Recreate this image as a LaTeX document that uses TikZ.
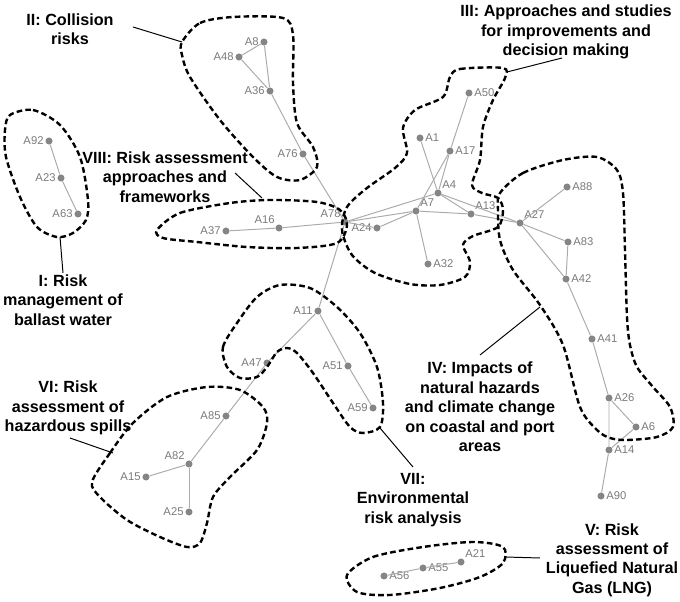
\documentclass[tikz,border=0pt]{standalone}
\usepackage{fontspec}
\setmainfont{Liberation Sans}
\definecolor{dotgray}{HTML}{858585}
\definecolor{edgegray}{HTML}{ABABAB}
\definecolor{labgray}{HTML}{7A7A7A}

\tikzset{
  dot/.style={circle, fill=dotgray, inner sep=0pt, minimum size=5pt},
  lbl/.style={font=\fontsize{8}{9}\selectfont, text=labgray, inner sep=1pt},
  edge/.style={draw=edgegray, line width=0.7pt},
  grp/.style={draw=black, line width=1.7pt, dash pattern=on 4pt off 2.3pt},
  lead/.style={draw=black, line width=0.7pt},
  grplbl/.style={font=\bfseries\fontsize{11.5}{13.8}\selectfont, align=center, inner sep=0pt}
}

\begin{document}
\begin{tikzpicture}[x=0.025cm, y=-0.025cm]
\useasboundingbox (0,0) rectangle (680,602);

%% I: ballast water
\draw (49,141) node[dot, label={[lbl]left:A92}] (a92) {};
\draw (61,178) node[dot, label={[lbl]left:A23}] (a23) {};
\draw (78,214) node[dot, label={[lbl]left:A63}] (a63) {};
%% II: collision
\draw (264,42) node[dot, label={[lbl]left:A8}] (a8) {};
\draw (239,57) node[dot, label={[lbl]left:A48}] (a48) {};
\draw (270,91) node[dot, label={[lbl]left:A36}] (a36) {};
\draw (303,154) node[dot, label={[lbl]left:A76}] (a76) {};
%% VIII: frameworks
\draw (226,231) node[dot, label={[lbl]left:A37}] (a37) {};
\draw (279,228) node[dot, label={[lbl]above left:A16}] (a16) {};
\draw (345,222) node[dot, label={[lbl]above left:A78}] (a78) {};
%% III: decision making
\draw (377,228) node[dot, label={[lbl]left:A24}] (a24) {};
\draw (469,93) node[dot, label={[lbl]right:A50}] (a50) {};
\draw (420,138) node[dot, label={[lbl]right:A1}] (a1) {};
\draw (450,151) node[dot, label={[lbl]right:A17}] (a17) {};
\draw (438,193) node[dot, label={[lbl]above right:A4}] (a4) {};
\draw (416,211) node[dot, label={[lbl]above right:A7}] (a7) {};
\draw (471,214) node[dot, label={[lbl]above right:A13}] (a13) {};
\draw (428,264) node[dot, label={[lbl]right:A32}] (a32) {};
%% IV: natural hazards
\draw (520,223) node[dot, label={[lbl]above right:A27}] (a27) {};
\draw (567,187) node[dot, label={[lbl]right:A88}] (a88) {};
\draw (568,242) node[dot, label={[lbl]right:A83}] (a83) {};
\draw (566,279) node[dot, label={[lbl]right:A42}] (a42) {};
\draw (592,339) node[dot, label={[lbl]right:A41}] (a41) {};
\draw (609,398) node[dot, label={[lbl]right:A26}] (a26) {};
\draw (636,427) node[dot, label={[lbl]right:A6}] (a6) {};
\draw (609,450) node[dot, label={[lbl]right:A14}] (a14) {};
\draw (601,496) node[dot, label={[lbl]right:A90}] (a90) {};
%% VII: environmental
\draw (318,311) node[dot, label={[lbl]left:A11}] (a11) {};
\draw (267,363) node[dot, label={[lbl]left:A47}] (a47) {};
\draw (348,366) node[dot, label={[lbl]left:A51}] (a51) {};
\draw (373,408) node[dot, label={[lbl]left:A59}] (a59) {};
%% VI: spills
\draw (226,416) node[dot, label={[lbl]left:A85}] (a85) {};
\draw (189,464) node[dot, label={[lbl]above left:A82}] (a82) {};
\draw (146,477) node[dot, label={[lbl]left:A15}] (a15) {};
\draw (189,512) node[dot, label={[lbl]left:A25}] (a25) {};
%% V: LNG
\draw (384,576) node[dot, label={[lbl]right:A56}] (a56) {};
\draw (423,568) node[dot, label={[lbl]right:A55}] (a55) {};
\draw (461,562) node[dot, label={[lbl]above right:A21}] (a21) {};

%%%%%%%%%%%%%%%%%%%%%% Links
\path[edge] (a92) -- (a23) -- (a63);
\path[edge] (a8) -- (a48) -- (a36) -- (a8);
\path[edge] (a36) -- (a76) -- (a78);
\path[edge] (a37) -- (a16) -- (a78);
\path[edge] (a78) -- (a24) -- (a7);
\path[edge] (a78) -- (a7);
\path[edge] (a78) -- (a4);
\path[edge] (a1) -- (a4);
\path[edge] (a50) -- (a17) -- (a4);
\path[edge] (a17) -- (a7);
\path[edge] (a4) -- (a13);
\path[edge] (a4) -- (a27);
\path[edge] (a7) -- (a13) -- (a27);
\path[edge] (a7) -- (a32);
\path[edge] (a27) -- (a88);
\path[edge] (a27) -- (a83) -- (a42);
\path[edge] (a27) -- (a42) -- (a41) -- (a26);
\path[edge] (a26) -- (a6) -- (a14);
\path[edge] (a26) -- (a14) -- (a90);
\path[edge] (a78) -- (a11) -- (a47) -- (a85) -- (a82);
\path[edge] (a11) -- (a51) -- (a59);
\path[edge] (a82) -- (a15);
\path[edge] (a82) -- (a25);
\path[edge] (a56) -- (a55) -- (a21);

%%%%%%%%%%%%%%%%%%%%%% Clusters
%% I
\draw[grp] plot[smooth cycle] coordinates {(10,115) (33,110) (60,125) (80,157)
  (88,200) (86,220) (73,233) (57,237) (37,227) (20,197) (6,157) (5,130)};
%% II
\draw[grp] plot[smooth cycle] coordinates {(182,42) (200,23) (233,17) (283,18)
  (293,35) (293,83) (297,123) (313,147) (317,167) (300,180) (277,177) (253,157)
  (220,120) (190,77) (182,55)};
%% VIII
\draw[grp] plot[smooth cycle] coordinates {(157,230) (180,213) (230,203) (270,200)
  (317,202) (340,210) (347,225) (337,243) (297,248) (247,247) (197,242) (163,238)};
%% III
\draw[grp] plot[smooth cycle] coordinates {(450,77) (460,69) (503,68) (505,78)
  (493,100) (483,127) (480,160) (472,185) (482,193) (498,198) (503,210) (498,227)
  (473,236) (463,245) (470,262) (465,277) (440,285) (410,284) (375,273) (352,255)
  (342,230) (347,207) (367,188) (395,168) (407,153) (403,128) (415,110) (443,97)};
%% IV
\draw[grp] plot[smooth cycle] coordinates {(500,193) (523,173) (563,160) (597,157)
  (617,170) (623,193) (625,250) (627,317) (630,345) (637,367) (653,387) (670,407)
  (673,427) (657,437) (627,440) (610,438) (597,430) (580,407) (563,345) (540,305)
  (513,270) (500,240) (498,210)};
%% V
\draw[grp] plot[smooth cycle] coordinates {(347,575) (373,557) (423,547) (473,542)
  (503,547) (503,563) (480,577) (440,588) (390,595) (357,592)};
%% VI
\draw[grp] plot[smooth cycle] coordinates {(92,482) (110,453) (133,423) (167,397)
  (207,387) (240,390) (263,407) (267,423) (257,450) (230,477) (213,497) (207,523)
  (200,543) (187,547) (160,537) (127,520) (100,497)};
%% VII
\draw[grp] plot[smooth cycle] coordinates {(227,367) (223,347) (237,323) (257,297)
  (280,285) (310,288) (337,307) (360,333) (377,367) (383,403) (380,427) (363,433)
  (350,427) (333,403) (313,373) (297,353) (287,348) (277,352) (267,367) (257,377)
  (240,378)};

%%%%%%%%%%%%%%%%%%%%%% Cluster names
\node[grplbl] (g1lbl) at (63,300) {I: Risk\\management of\\ballast water};
\node[grplbl] (g2lbl) at (70,29) {II: Collision\\risks};
\node[grplbl] (g3lbl) at (566,32) {III: Approaches and studies\\for improvements and\\decision making};
\node[grplbl] (g4lbl) at (480,407) {IV: Impacts of\\natural hazards\\and climate change\\on coastal and port\\areas};
\node[grplbl] (g5lbl) at (612,560) {V: Risk\\assessment of\\Liquefied Natural\\Gas (LNG)};
\node[grplbl] (g6lbl) at (68,408) {VI: Risk\\assessment of\\hazardous spills};
\node[grplbl] (g7lbl) at (413,500) {VII:\\Environmental\\risk analysis};
\node[grplbl] (g8lbl) at (165,177) {VIII: Risk assessment\\approaches and\\frameworks};

\coordinate (g1a) at (60,237);  \coordinate (g1b) at (63,273);
\coordinate (g2a) at (182,42);  \coordinate (g2b) at (133,27);
\coordinate (g3a) at (507,72);  \coordinate (g3b) at (562,58);
\coordinate (g4a) at (540,307); \coordinate (g4b) at (480,355);
\coordinate (g5a) at (505,557); \coordinate (g5b) at (540,558);
\coordinate (g6a) at (113,453); \coordinate (g6b) at (70,438);
\coordinate (g7a) at (380,428); \coordinate (g7b) at (413,467);
\coordinate (g8a) at (262,198); \coordinate (g8b) at (235,173);
\foreach \g in {1,...,8}
  \path[lead] (g\g a) -- (g\g b);
\end{tikzpicture}
\end{document}
